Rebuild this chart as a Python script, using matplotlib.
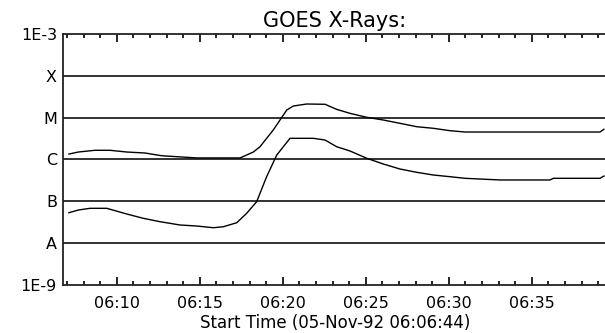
import matplotlib
matplotlib.use("Agg")
import matplotlib.pyplot as plt
import numpy as np

# time in minutes after 06:00 UT, flux in W/m^2
t_long = [7.12, 7.69, 8.69, 9.59, 10.60, 11.70, 12.71, 14.82, 17.43, 18.23, 18.63, 19.43,
          20.24, 20.64, 21.44, 22.55, 23.25, 24.05, 25.06, 26.06, 27.06, 28.07, 29.07,
          30.08, 30.98, 39.11, 39.35]
flux_long = [1.35e-6, 1.51e-6, 1.66e-6, 1.66e-6, 1.51e-6, 1.43e-6, 1.23e-6, 1.09e-6, 1.09e-6,
             1.51e-6, 2.02e-6, 5.07e-6, 1.52e-5, 1.90e-5, 2.12e-5, 2.09e-5, 1.58e-5, 1.27e-5,
             1.02e-5, 8.79e-6, 7.33e-6, 6.08e-6, 5.57e-6, 4.88e-6, 4.54e-6, 4.54e-6, 5.27e-6]

t_short = [7.12, 7.69, 8.39, 9.40, 10.60, 11.60, 12.61, 13.81, 14.82, 15.82, 16.42, 17.23,
           17.83, 18.43, 19.03, 19.64, 20.44, 21.84, 22.55, 23.25, 24.05, 25.06, 26.06,
           27.06, 28.07, 29.07, 30.08, 30.98, 33.09, 36.10, 36.30, 39.11, 39.35]
flux_short = [5.35e-8, 6.20e-8, 6.81e-8, 6.81e-8, 4.98e-8, 3.93e-8, 3.26e-8, 2.72e-8, 2.57e-8,
              2.34e-8, 2.47e-8, 3.08e-8, 5.18e-8, 9.80e-8, 3.88e-7, 1.28e-6, 3.21e-6, 3.21e-6,
              2.92e-6, 2.02e-6, 1.60e-6, 1.07e-6, 7.80e-7, 5.93e-7, 4.94e-7, 4.26e-7, 3.88e-7,
              3.55e-7, 3.24e-7, 3.24e-7, 3.55e-7, 3.55e-7, 4.03e-7]

class_levels = [1e-3, 1e-4, 1e-5, 1e-6, 1e-7, 1e-8, 1e-9]
class_labels = ['1E-3', 'X', 'M', 'C', 'B', 'A', '1E-9']

major_ticks = [10, 15, 20, 25, 30, 35]
major_labels = ['06:10', '06:15', '06:20', '06:25', '06:30', '06:35']

t_start = 6 + 44 / 60.0  # 06:06:44
t_end = t_start + 544.5 / 16.6  # right edge runs just off the picture

fig = plt.figure(figsize=(6.05, 3.33), dpi=100)
ax = fig.add_axes([62.5 / 605, 48 / 333, 544.5 / 605, 251 / 333])

# flare class reference lines
for lev in class_levels[1:-1]:
    ax.axhline(lev, color='#222222', lw=1.3, zorder=1)

ax.plot(t_long, flux_long, color='black', lw=1.0, zorder=2)
ax.plot(t_short, flux_short, color='black', lw=1.0, zorder=2)

ax.set_yscale('log')
ax.set_ylim(1e-9, 1e-3)
ax.set_xlim(t_start, t_end)

ax.set_yticks(class_levels)
ax.set_yticklabels(class_labels)
ax.yaxis.set_minor_locator(matplotlib.ticker.NullLocator())
ax.tick_params(axis='y', length=0, pad=4, labelsize=11.5)

ax.set_xticks(major_ticks)
ax.set_xticklabels(major_labels)
ax.set_xticks(np.arange(7, 40), minor=True)
ax.tick_params(axis='x', which='both', direction='in', top=True, labelsize=11.5, pad=8, width=1.2)
ax.tick_params(axis='x', which='major', length=6)
ax.tick_params(axis='x', which='minor', length=3)

for sp in ax.spines.values():
    sp.set_linewidth(1.3)
    sp.set_color('#222222')

ax.set_title('GOES X-Rays:', fontsize=15, pad=5)
ax.set_xlabel('Start Time (05-Nov-92 06:06:44)', fontsize=12, labelpad=2)

fig.savefig('out.png', dpi=100)
